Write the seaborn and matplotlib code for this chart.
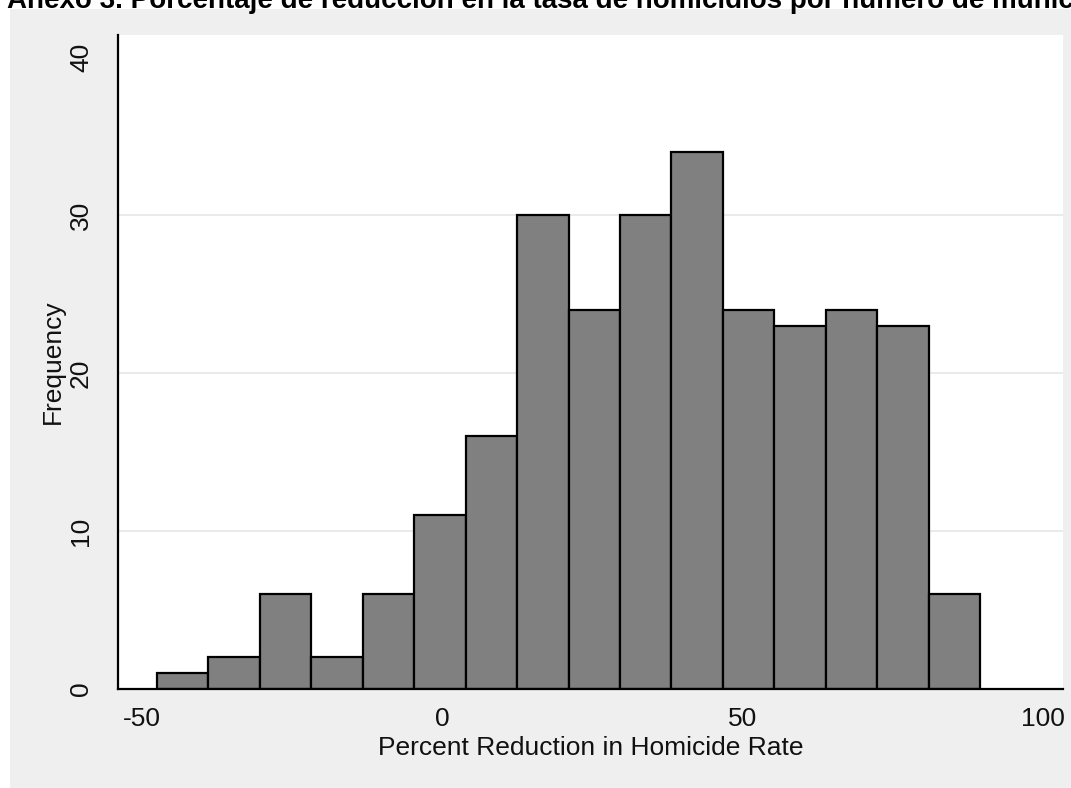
import matplotlib
matplotlib.use("Agg")
import matplotlib.pyplot as plt
import seaborn as sns
import numpy as np
import pandas as pd
from matplotlib.patches import Rectangle

# ---- data ----
bin_edges = [-47.5, -38.94, -30.38, -21.81, -13.25, -4.69, 3.88, 12.44, 21.0,
             29.56, 38.13, 46.69, 55.25, 63.81, 72.38, 80.94, 89.5]
counts = [1, 2, 6, 2, 6, 11, 16, 30, 24, 30, 34, 24, 23, 24, 23, 6]
x_ticks = [-50, 0, 50, 100]
y_ticks = [0, 10, 20, 30, 40]
grid_levels = [10, 20, 30]
title = "Anexo 3. Porcentaje de reducción en la tasa de homicidios por número de municipios"
xlabel = "Percent Reduction in Homicide Rate"
ylabel = "Frequency"

centers = [(bin_edges[i] + bin_edges[i + 1]) / 2 for i in range(len(counts))]
df = pd.DataFrame({"x": centers, "w": counts})

sns.set_style("white")
plt.rcParams["font.family"] = ["Liberation Sans", "DejaVu Sans"]

W, H = 1071, 788
fig = plt.figure(figsize=(W / 100, H / 100), dpi=100)
fig.patch.set_facecolor("white")
# Stata-like gray graph region
fig.patches.append(Rectangle((10 / W, 0), (W - 10) / W, 1 - 9 / H,
                             transform=fig.transFigure, facecolor="#efefef",
                             edgecolor="none", zorder=-10))

ax = fig.add_axes([118 / W, 1 - 689 / H, (1063 - 118) / W, (689 - 35) / H])
ax.set_facecolor("white")

for g in grid_levels:
    ax.axhline(g, color="#e6e6e6", lw=1.2, zorder=0)

sns.histplot(data=df, x="x", weights="w", bins=bin_edges, ax=ax,
             color="#808080", edgecolor="black", linewidth=1.6, alpha=1.0,
             zorder=2)

ax.set_xlim(-54.0, 103.3)
ax.set_ylim(0, 41.4)
ax.set_xticks(x_ticks)
ax.set_yticks(y_ticks)
ax.set_xticklabels([str(t) for t in x_ticks], fontsize=19, color="#111111")
ax.set_yticklabels([str(t) for t in y_ticks], fontsize=19, rotation=90, va="center",
                   color="#111111")
ax.tick_params(axis="both", direction="out", length=7, width=1.5, color="black")
ax.tick_params(axis="y", pad=11)
ax.tick_params(axis="x", pad=6)

for s in ["top", "right"]:
    ax.spines[s].set_visible(False)
for s in ["left", "bottom"]:
    ax.spines[s].set_color("black")
    ax.spines[s].set_linewidth(1.6)

ax.set_xlabel(xlabel, fontsize=19, labelpad=3.5, color="#111111")
ax.set_ylabel(ylabel, fontsize=19, labelpad=3, color="#111111")

fig.text(7 / W, 1 - 8 / H, title, fontsize=20, fontweight="bold",
         ha="left", va="baseline", color="black")

fig.savefig("out.png", dpi=100)
